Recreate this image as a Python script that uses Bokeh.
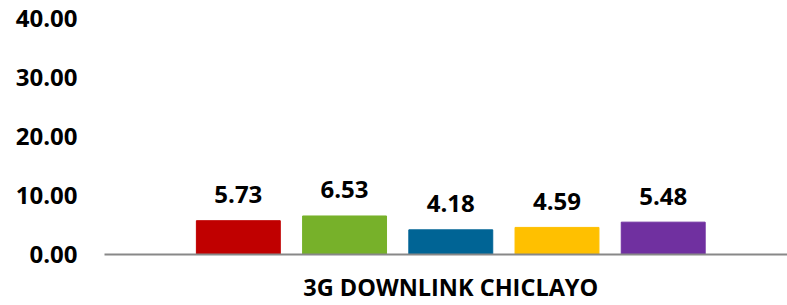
from bokeh.plotting import figure
from bokeh.models import Range1d, ColumnDataSource, NumeralTickFormatter, FixedTicker
from bokeh.core.properties import value
from bokeh.embed import file_html
from bokeh.resources import INLINE

category = "3G DOWNLINK CHICLAYO"
series_values = [5.73, 6.53, 4.18, 4.59, 5.48]
bar_colors = ["#C00000", "#77B12A", "#006495", "#FFC000", "#7030A0"]
y_ticks = [0, 10, 20, 30, 40]

FONT = "Open Sans"

xs = list(range(len(series_values)))
src = ColumnDataSource(dict(
    x=xs,
    top=series_values,
    color=bar_colors,
    label=["%.2f" % v for v in series_values],
))

p = figure(width=787, height=305, output_backend="svg", toolbar_location=None,
           x_range=Range1d(-1.26, 5.17), y_range=Range1d(0, 40),
           min_border_left=104, min_border_right=0, min_border_top=18, min_border_bottom=50)
p.outline_line_color = None
p.xgrid.visible = False
p.ygrid.visible = False

p.vbar(x="x", top="top", bottom=0, width=0.79, color="color", source=src)
p.text(x="x", y="top", text="label", source=src, y_offset=-26,
       text_align="center", text_baseline="middle",
       text_font=value(FONT), text_font_style="bold", text_font_size="24px", text_color="#000000")

ya = p.yaxis[0]
ya.ticker = FixedTicker(ticks=y_ticks)
ya.formatter = NumeralTickFormatter(format="0.00")
ya.axis_line_color = None
ya.major_tick_line_color = None
ya.minor_tick_line_color = None
ya.major_tick_out = 0
ya.major_tick_in = 0
ya.major_label_standoff = 27
ya.major_label_text_font = FONT
ya.major_label_text_font_style = "bold"
ya.major_label_text_font_size = "24px"
ya.major_label_text_color = "#000000"

xa = p.xaxis[0]
xa.ticker = FixedTicker(ticks=[2])
xa.major_label_overrides = {2: category}
xa.axis_line_color = "#888888"
xa.axis_line_width = 2
xa.major_tick_line_color = None
xa.minor_tick_line_color = None
xa.major_tick_out = 0
xa.major_tick_in = 0
xa.major_label_standoff = 16
xa.major_label_text_font = FONT
xa.major_label_text_font_style = "bold"
xa.major_label_text_font_size = "23.5px"
xa.major_label_text_color = "#000000"

open("out.html", "w").write(file_html(p, INLINE))
